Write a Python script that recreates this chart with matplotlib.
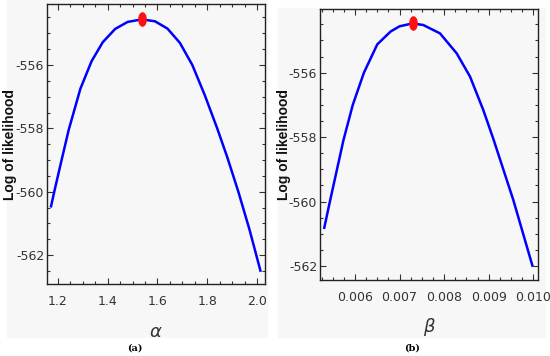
import matplotlib
matplotlib.use("Agg")
import matplotlib.pyplot as plt
from matplotlib.patches import Rectangle
from matplotlib.path import Path
from matplotlib.ticker import MultipleLocator
import numpy as np

plt.rcParams["axes.unicode_minus"] = False
plt.rcParams["font.family"] = ["DejaVu Sans"]

# values
alpha = [1.171, 1.185, 1.21, 1.243, 1.29, 1.335, 1.38, 1.43, 1.48, 1.537,
         1.59, 1.64, 1.69, 1.74, 1.79, 1.84, 1.88, 1.925, 1.97, 2.015]
loglik_a = [-560.50, -560.00, -559.15, -558.05, -556.75, -555.88, -555.28,
            -554.86, -554.64, -554.56, -554.62, -554.85, -555.30, -556.00,
            -556.95, -558.00, -558.90, -560.00, -561.20, -562.53]
alpha_hat, loglik_a_hat = 1.537, -554.56

beta = [0.005305, 0.00544, 0.00574, 0.00595, 0.00620, 0.00650, 0.00680,
        0.00700, 0.00729, 0.007532, 0.007907, 0.008281, 0.00858, 0.008878,
        0.009102, 0.009551, 0.009986]
loglik_b = [-560.85, -559.98, -558.10, -557.00, -556.00, -555.12, -554.72,
            -554.56, -554.47, -554.52, -554.78, -555.40, -556.12, -557.16,
            -558.05, -559.95, -562.02]
beta_hat, loglik_b_hat = 0.00729, -554.47

yticks = [-556, -558, -560, -562]
xticks_a = [1.2, 1.4, 1.6, 1.8, 2.0]
xticks_b = [0.006, 0.007, 0.008, 0.009, 0.010]

# tall ellipse marker for the maximum
circ = Path.unit_circle()
ell = Path(circ.vertices * np.array([0.55, 1.0]), circ.codes)

bg = "#f7f7f7"
fig = plt.figure(figsize=(5.5, 3.56), dpi=100)
fig.patches.append(Rectangle((7 / 550, 1 - 337 / 356), 260 / 550, 337 / 356,
                             transform=fig.transFigure, color=bg, zorder=-1))
fig.patches.append(Rectangle((278 / 550, 1 - 337 / 356), 267 / 550, 329 / 356,
                             transform=fig.transFigure, color=bg, zorder=-1))

ax1 = fig.add_axes([47 / 550, 1 - 284 / 356, 218 / 550, 280 / 356])
ax2 = fig.add_axes([320 / 550, 1 - 280 / 356, 218 / 550, 271 / 356])

panels = [
    (ax1, alpha, loglik_a, alpha_hat, loglik_a_hat, xticks_a, 0.05,
     (1.1558, 2.0322), (-562.915, -554.074), r"$\alpha$", 332, 10, 144),
    (ax2, beta, loglik_b, beta_hat, loglik_b_hat, xticks_b, 0.00025,
     (0.005215, 0.010105), (-562.434, -554.023), r"$\beta$", 327, 284, 145),
]

for ax, x, y, xh, yh, xt, xminor, xl, yl, xlab, xlab_y, ylab_x, ylab_y in panels:
    ax.set_facecolor(bg)
    ax.plot(x, y, color="#0000ff", lw=1.8, solid_capstyle="butt",
            solid_joinstyle="round")
    ax.plot([xh], [yh], marker=ell, ms=9.5, color="#ff1010", ls="none")
    ax.set_xlim(*xl)
    ax.set_ylim(*yl)
    ax.set_xticks(xt)
    ax.set_yticks(yticks)
    ax.xaxis.set_minor_locator(MultipleLocator(xminor))
    ax.yaxis.set_minor_locator(MultipleLocator(0.5))
    if ax is ax2:
        ax.set_xticklabels(["%.3f" % v for v in xt])
    else:
        ax.set_xticklabels(["%.1f" % v for v in xt])
    ax.tick_params(which="both", direction="in", top=True, right=True,
                   colors="#333333", labelsize=9, width=0.8)
    ax.tick_params(which="major", length=4, pad=8)
    ax.tick_params(which="minor", length=2)
    ax.tick_params(axis="y", which="major", pad=2)
    for s in ax.spines.values():
        s.set_color("#222222")
        s.set_linewidth(1.0)
    pos = ax.get_position()
    fig.text((pos.x0 + pos.x1) / 2, 1 - xlab_y / 356, xlab, ha="center",
             va="center", fontsize=13, color="#333333")
    fig.text(ylab_x / 550, 1 - ylab_y / 356, "Log of likelihood",
             rotation=90, ha="center", va="center", fontsize=10,
             fontweight="bold", family=["Liberation Sans", "DejaVu Sans"],
             color="#111111")

fig.text(135 / 550, 1 - 348 / 356, "(a)", ha="center", va="center",
         fontsize=7, fontweight="bold", family="DejaVu Serif")
fig.text(412 / 550, 1 - 348 / 356, "(b)", ha="center", va="center",
         fontsize=7, fontweight="bold", family="DejaVu Serif")

plt.savefig("out.png", dpi=100)
